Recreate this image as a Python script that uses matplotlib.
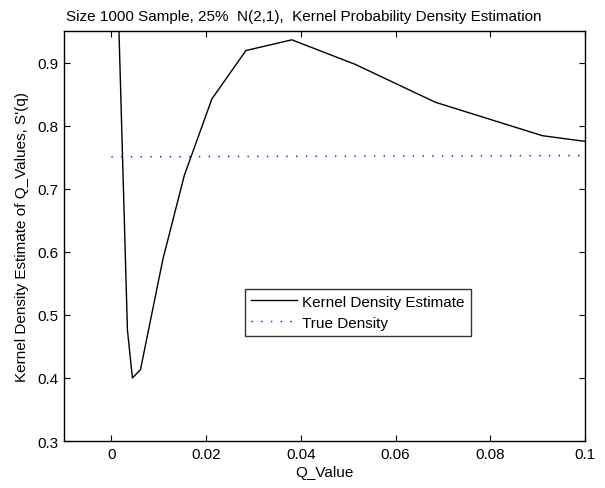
import matplotlib
matplotlib.use("Agg")
import matplotlib.pyplot as plt

plt.rcParams['font.family'] = ['Liberation Sans', 'DejaVu Sans']

q_values = [0.0010, 0.00339, 0.00444, 0.00614, 0.0109, 0.0154, 0.0212, 0.0284, 0.0381, 0.0515, 0.0684, 0.0910, 0.1000]
kde_values = [1.11, 0.476, 0.400, 0.413, 0.589, 0.721, 0.842, 0.919, 0.936, 0.897, 0.837, 0.784, 0.775]
true_x = [0.0, 0.1]
true_y = [0.7505, 0.7525]

FS = 11
fig = plt.figure(figsize=(6.05, 4.89), dpi=100)
ax = fig.add_axes([0.1058, 0.0961, 0.8612, 0.8385])
ax.plot(q_values, kde_values, color='black', lw=1.0, label='Kernel Density Estimate')
ax.plot(true_x, true_y, color='blue', lw=1.0, linestyle=(0, (1, 6)), label='True Density')
ax.set_xlim(-0.01, 0.1)
ax.set_ylim(0.3, 0.95)
ax.set_xticks([0, 0.02, 0.04, 0.06, 0.08, 0.1])
ax.set_xticklabels(['0', '0.02', '0.04', '0.06', '0.08', '0.1'])
ax.set_yticks([0.3, 0.4, 0.5, 0.6, 0.7, 0.8, 0.9])
ax.set_yticklabels(['0.3', '0.4', '0.5', '0.6', '0.7', '0.8', '0.9'])
ax.tick_params(direction='in', top=True, right=True, labelsize=FS, length=4, pad=4)
for s in ax.spines.values():
    s.set_linewidth(1.0)
ax.set_xlabel('Q_Value', fontsize=FS, labelpad=3)
ax.set_ylabel("Kernel Density Estimate of Q_Values, S'(q)", fontsize=FS, labelpad=6)
ax.set_title('Size 1000 Sample, 25%  N(2,1),  Kernel Probability Density Estimation',
             fontsize=FS, pad=8, x=0.46)
leg = ax.legend(loc='lower left', bbox_to_anchor=(0.347, 0.257), fontsize=FS, frameon=True,
                fancybox=False, edgecolor='black', borderpad=0.4, handlelength=3.0,
                handletextpad=0.35, labelspacing=0.45, borderaxespad=0)
leg.get_frame().set_linewidth(1.0)
fig.savefig('out.png', dpi=100)
